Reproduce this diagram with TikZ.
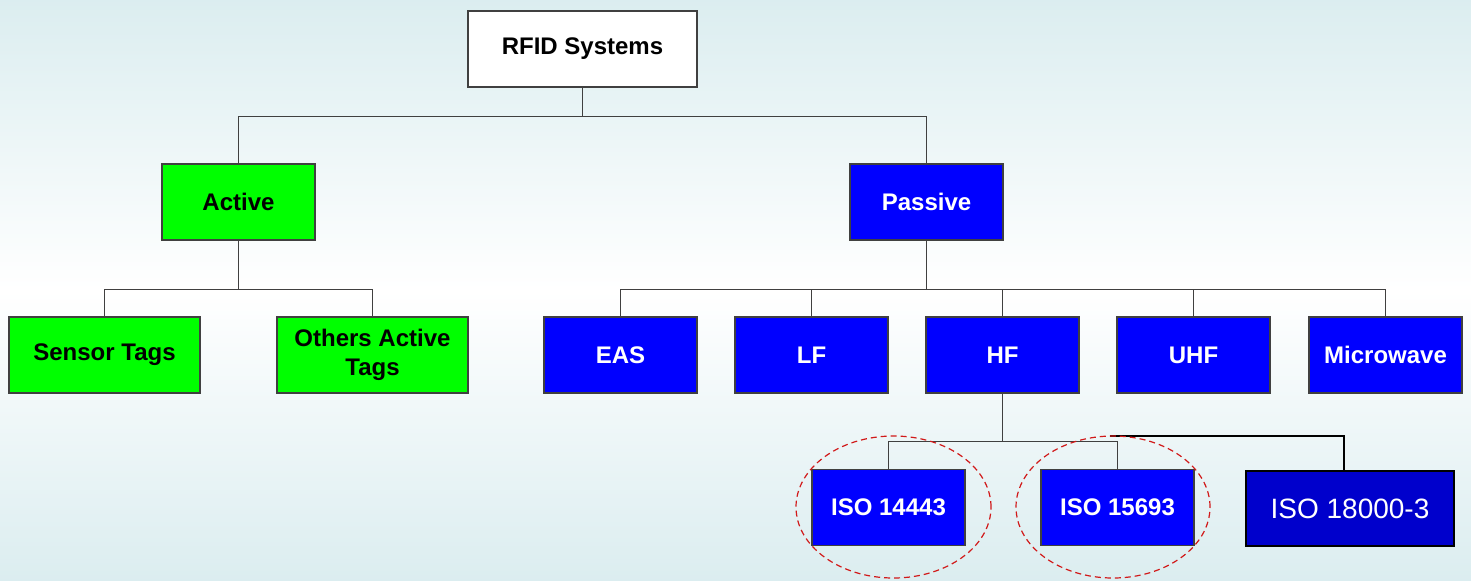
\documentclass[tikz,border=0pt]{standalone}
\usepackage{fontspec}
\setmainfont{Liberation Sans}
\usepackage{tikz}
\definecolor{mybg}{rgb}{0.86,0.93,0.94}
\definecolor{mygreen}{rgb}{0,1,0}
\definecolor{myblue}{rgb}{0,0,1}
\definecolor{mydarkblue}{rgb}{0,0,0.8}
\definecolor{myline}{rgb}{0.25,0.25,0.25}
\definecolor{myring}{rgb}{0.82,0.1,0.1}

\begin{document}
\begin{tikzpicture}[x=0.5pt,y=-0.5pt,
    box/.style={draw=myline,line width=0.6pt,minimum width=76.5pt,minimum height=38pt,
      inner sep=0pt,font=\bfseries\fontsize{12}{14.5}\selectfont,align=center},
    greenbox/.style={box,fill=mygreen,text=black},
    bluebox/.style={box,fill=myblue,text=white},
    conn/.style={draw=myline,line width=0.5pt},
    ring/.style={myring,line width=0.6pt,dash pattern=on 3pt off 2pt}]
  \useasboundingbox (0,0) rectangle (1471,580);
  \shade[top color=mybg,bottom color=mybg,middle color=white] (0,0) rectangle (1471,580);
  \node[box,fill=white,minimum width=114.5pt] (rfid) at (582.5,49) {RFID Systems};
  \node[greenbox] (active) at (238.5,202) {Active};
  \node[bluebox] (passive) at (926.5,202) {Passive};
  \node[greenbox,minimum width=95.5pt] (sensor) at (104.5,355) {Sensor Tags};
  \node[greenbox,minimum width=95.5pt] (others) at (372.5,355) {Others Active\\Tags};
  \foreach \n/\tx/\tl in {eas/620.5/EAS,lf/811.5/LF,hf/1002.5/HF,uhf/1193.5/UHF,micro/1385.5/Microwave}
    \node[bluebox] (\n) at (\tx,355) {\tl};
  \node[bluebox] (iso14443) at (888.5,507.5) {ISO 14443};
  \node[bluebox] (iso15693) at (1117.5,507.5) {ISO 15693};
  \node[box,fill=mydarkblue,text=white,draw=black,line width=1pt,minimum width=104pt,
    minimum height=37.5pt,font=\fontsize{14}{16}\selectfont] (iso18000) at (1350,508.5) {ISO 18000-3};
  \foreach \n in {active,passive}
    \draw[conn] (rfid.south) -- ++(0,29) -| (\n.north);
  \foreach \n in {sensor,others}
    \draw[conn] (active.south) -- ++(0,49) -| (\n.north);
  \foreach \n in {eas,lf,hf,uhf,micro}
    \draw[conn] (passive.south) -- ++(0,49) -| (\n.north);
  \foreach \n in {iso14443,iso15693}
    \draw[conn] (hf.south) -- ++(0,48) -| (\n.north);
  \coordinate (isobus) at (1110,436);
  \draw[black,line width=1pt] (isobus) -| ([xshift=-3pt]iso18000.north);
  \draw[ring] (893.5,507) ellipse [x radius=48.75pt,y radius=35.5pt];
  \draw[ring] (1113,507) ellipse [x radius=48.5pt,y radius=35.5pt];
\end{tikzpicture}
\end{document}
